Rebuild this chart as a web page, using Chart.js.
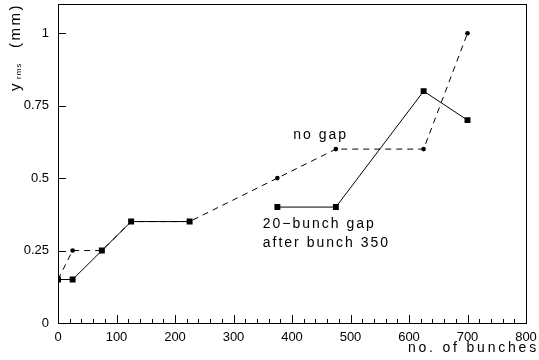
<!DOCTYPE html>
<html><head><meta charset="utf-8">
<script src="https://cdn.jsdelivr.net/npm/chart.js@4/dist/chart.umd.min.js"></script>
<style>html,body{margin:0;padding:0;background:#fff}#wrap{width:539px;height:360px}</style>
</head><body><div id="wrap"><canvas id="c" width="539" height="360"></canvas></div>
<script>
// ---- data ----
const bunches   = [0, 25, 75, 125, 225, 375, 475, 625, 700];
const noGap     = [0.15, 0.25, 0.25, 0.35, 0.35, 0.5, 0.6, 0.6, 1.0];
const withGap   = [0.15, 0.15, 0.25, 0.35, 0.35, 0.4, 0.4, 0.8, 0.7];
const gapBreakAfterIndex = 4; // no line drawn between 225 and 375 for the gap series
const yTickValues = [0, 0.25, 0.5, 0.75, 1];
const xTickStep = 100, xMinorStep = 20;
const labels = { noGap: 'no gap', gap1: '20\u2212bunch gap', gap2: 'after bunch 350', xTitle: 'no. of bunches' };

const FONT = '"Liberation Sans", Arial, Helvetica, sans-serif';
const pts = (xs, ys) => xs.map((x, i) => ({ x: x, y: ys[i] }));
const zeroPad = s => { s.paddingTop = 0; s.paddingBottom = 0; s.paddingLeft = 0; s.paddingRight = 0; };

const decor = {
  id: 'decor',
  afterDraw(chart) {
    const ctx = chart.ctx, a = chart.chartArea;
    const xs = chart.scales.x, ys = chart.scales.y;
    ctx.save();
    ctx.strokeStyle = '#000';
    ctx.lineWidth = 1;
    // frame
    ctx.strokeRect(Math.round(a.left) + 0.5, Math.round(a.top) + 0.5,
                   Math.round(a.right - a.left), Math.round(a.bottom - a.top));
    // inward ticks
    ctx.beginPath();
    for (let v = xs.min; v <= xs.max; v += xMinorStep) {
      const px = Math.round(xs.getPixelForValue(v)) + 0.5;
      const len = (v % xTickStep === 0) ? 8 : 4;
      ctx.moveTo(px, a.bottom);
      ctx.lineTo(px, a.bottom - len);
    }
    yTickValues.forEach(v => {
      const py = Math.round(ys.getPixelForValue(v)) + 0.5;
      ctx.moveTo(a.left, py);
      ctx.lineTo(a.left + 8, py);
    });
    ctx.stroke();

    // annotations
    ctx.fillStyle = '#000';
    ctx.font = '14px ' + FONT;
    ctx.letterSpacing = '2px';
    ctx.textBaseline = 'alphabetic';
    ctx.textAlign = 'left';
    ctx.fillText(labels.noGap, xs.getPixelForValue(402), ys.getPixelForValue(0.634));
    ctx.fillText(labels.gap1, xs.getPixelForValue(350), ys.getPixelForValue(0.328));
    ctx.fillText(labels.gap2, xs.getPixelForValue(350), ys.getPixelForValue(0.262));

    // x title
    ctx.textAlign = 'right';
    ctx.letterSpacing = '2.8px';
    ctx.fillText(labels.xTitle, 539, 352);
    ctx.restore();

    // y title (rotated): y_rms (mm)
    ctx.save();
    ctx.translate(20, 91);
    ctx.rotate(-Math.PI / 2);
    ctx.fillStyle = '#000';
    ctx.textBaseline = 'alphabetic';
    ctx.textAlign = 'left';
    ctx.font = '15px ' + FONT;
    ctx.letterSpacing = '0px';
    ctx.fillText('y', 0, 0);
    ctx.font = '8px ' + FONT;
    ctx.letterSpacing = '1px';
    ctx.fillText('rms', 12, 1);
    ctx.font = '15px ' + FONT;
    ctx.letterSpacing = '2.5px';
    ctx.fillText('(mm)', 43, 0);
    ctx.restore();
  }
};

new Chart(document.getElementById('c'), {
  type: 'line',
  data: {
    datasets: [
      {
        label: 'no gap',
        data: pts(bunches, noGap),
        borderColor: '#000', backgroundColor: '#000', borderWidth: 1,
        borderDash: [6, 5], pointStyle: 'circle', pointRadius: 2.3, pointBorderWidth: 0,
        fill: false, tension: 0, order: 2
      },
      {
        label: '20-bunch gap after bunch 350',
        data: pts(bunches, withGap),
        borderColor: '#000', backgroundColor: '#000', borderWidth: 1,
        pointStyle: 'rect', pointRadius: 4.2, pointBorderWidth: 0,
        fill: false, tension: 0,
        segment: { borderColor: c => c.p0DataIndex === gapBreakAfterIndex ? 'rgba(0,0,0,0)' : '#000' },
        order: 1
      }
    ]
  },
  options: {
    responsive: false, animation: false, devicePixelRatio: 1,
    layout: { padding: { top: 4, right: 13, left: 0, bottom: 0 } },
    plugins: { legend: { display: false }, tooltip: { enabled: false } },
    scales: {
      x: {
        type: 'linear', min: 0, max: 800,
        grid: { display: false, drawTicks: false }, border: { display: false },
        ticks: { stepSize: xTickStep, color: '#000', font: { family: FONT, size: 13 }, padding: 7, maxRotation: 0, autoSkip: false },
        afterFit: s => { s.height = 37; zeroPad(s); }
      },
      y: {
        type: 'linear', min: 0, max: 1.1,
        grid: { display: false, drawTicks: false }, border: { display: false },
        afterBuildTicks: s => { s.ticks = yTickValues.map(v => ({ value: v })); },
        ticks: { color: '#000', font: { family: FONT, size: 13 }, padding: 9, callback: v => String(v) },
        afterFit: s => { s.width = 58; zeroPad(s); }
      }
    }
  },
  plugins: [decor]
});
</script>
</body></html>
